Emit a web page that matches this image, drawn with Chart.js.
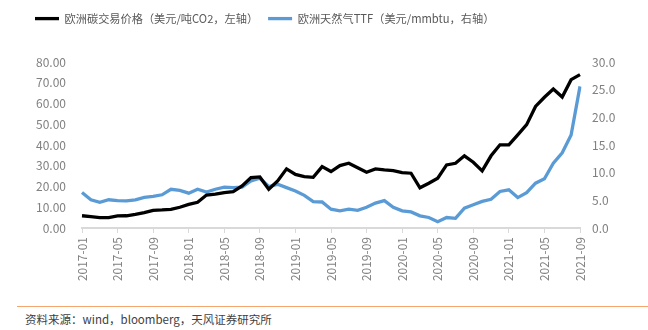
<!DOCTYPE html>
<html>
<head>
<meta charset="utf-8">
<script src="https://cdn.jsdelivr.net/npm/chart.js@4.4.1/dist/chart.umd.min.js"></script>
<style>
  body { margin: 0; background: #fff; }
  #wrap { position: relative; width: 648px; height: 330px; overflow: hidden; }
  #box { position: absolute; left: 0; top: 0; width: 648px; height: 300px; }
  #source {
    position: absolute; left: 17px; right: 0; top: 306px;
    border-top: 1px solid #f4a66e;
    padding: 4px 0 0 8px;
    font: 11.5px "Noto Sans CJK SC", sans-serif; color: #404040;
  }
</style>
</head>
<body>
<div id="wrap">
  <div id="box"><canvas id="myChart"></canvas></div>
  <div id="source">资料来源：wind，bloomberg，天风证券研究所</div>
</div>
<script>
// months 2017-01 .. 2021-09
var months = [];
for (var y = 2017; y <= 2021; y++) {
  for (var m = 1; m <= 12; m++) {
    if (y === 2021 && m > 9) break;
    months.push(y + "-" + (m < 10 ? "0" + m : m));
  }
}

// 欧洲碳交易价格 (USD/t CO2, left axis)
var carbonPrice = [
  5.9, 5.5, 5.0, 5.0, 5.8, 5.9, 6.6, 7.4, 8.5, 8.7, 9.0, 10.0,
  11.4, 12.4, 15.9, 16.3, 17.1, 17.5, 20.3, 24.3, 24.6, 18.7, 22.7, 28.5,
  25.8, 24.8, 24.4, 29.6, 27.2, 30.1, 31.2, 29.0, 26.9, 28.5, 28.0, 27.7,
  26.7, 26.4, 19.4, 21.6, 24.0, 30.4, 31.2, 34.8, 31.7, 27.5, 34.8, 40.1,
  40.1, 44.9, 49.8, 58.6, 63.0, 67.0, 63.1, 71.5, 73.9
];

// 欧洲天然气TTF (USD/mmbtu, right axis)
var ttfPrice = [
  6.4, 5.1, 4.65, 5.1, 4.95, 4.9, 5.1, 5.55, 5.7, 6.0, 7.0, 6.8,
  6.3, 7.0, 6.5, 7.0, 7.4, 7.3, 7.4, 8.5, 9.0, 7.5, 7.9, 7.3,
  6.7, 5.9, 4.75, 4.7, 3.4, 3.1, 3.4, 3.2, 3.75, 4.5, 4.95, 3.75,
  3.1, 2.9, 2.2, 1.9, 1.15, 1.9, 1.75, 3.6, 4.2, 4.8, 5.2, 6.6,
  6.9, 5.5, 6.4, 8.1, 8.9, 11.7, 13.6, 16.8, 25.6
];

var seriesNames = ["欧洲碳交易价格（美元/吨CO2，左轴）", "欧洲天然气TTF（美元/mmbtu，右轴）"];

var tickFont = { family: "'Noto Sans CJK SC', sans-serif", size: 12 };

// push the plot area down below the legend
var legendSpace = {
  id: "legendSpace",
  beforeInit: function (chart) {
    var fit = chart.legend.fit;
    chart.legend.fit = function () {
      fit.bind(chart.legend)();
      this.height = 59;
    };
  }
};

var ctx = document.getElementById("myChart").getContext("2d");
new Chart(ctx, {
  type: "line",
  data: {
    labels: months,
    datasets: [{
      label: seriesNames[0],
      data: carbonPrice,
      yAxisID: "y",
      borderColor: "#000000",
      backgroundColor: "#000000",
      borderWidth: 3.3,
      pointRadius: 0,
      tension: 0
    }, {
      label: seriesNames[1],
      data: ttfPrice,
      yAxisID: "y1",
      borderColor: "#5b9bd5",
      backgroundColor: "#5b9bd5",
      borderWidth: 3.3,
      pointRadius: 0,
      tension: 0
    }]
  },
  options: {
    responsive: true,
    maintainAspectRatio: false,
    animation: false,
    layout: { padding: { top: 3, left: 25, right: 0, bottom: 0 } },
    plugins: {
      tooltip: { enabled: false },
      legend: {
        position: "top",
        align: "start",
        labels: {
          usePointStyle: true,
          pointStyle: "line",
          pointStyleWidth: 24,
          padding: 10,
          color: "#595959",
          font: { family: "'Noto Sans CJK SC', sans-serif", size: 11.2 }
        }
      }
    },
    scales: {
      x: {
        ticks: {
          autoSkip: false,
          minRotation: 90,
          maxRotation: 90,
          padding: 4,
          color: "#808080",
          font: tickFont,
          callback: function (v, i) {
            return i % 4 === 0 ? this.getLabelForValue(v) : null;
          }
        },
        grid: { drawOnChartArea: false, color: "#d9d9d9", tickLength: 5 },
        border: { color: "#d9d9d9", width: 2 },
        afterFit: function (scale) { scale.height = 72; }
      },
      y: {
        position: "left",
        min: 0,
        max: 80,
        ticks: {
          stepSize: 10,
          padding: 16,
          color: "#808080",
          font: tickFont,
          callback: function (v) { return v.toFixed(2); }
        },
        grid: { display: false, drawTicks: false },
        border: { display: false },
        afterFit: function (scale) { scale.width = 57; }
      },
      y1: {
        position: "right",
        min: 0,
        max: 30,
        ticks: {
          stepSize: 5,
          padding: 12,
          color: "#808080",
          font: tickFont,
          callback: function (v) { return v.toFixed(1); }
        },
        grid: { display: false, drawTicks: false },
        border: { display: false },
        afterFit: function (scale) { scale.width = 68; }
      }
    }
  },
  plugins: [legendSpace]
});
</script>
</body>
</html>
